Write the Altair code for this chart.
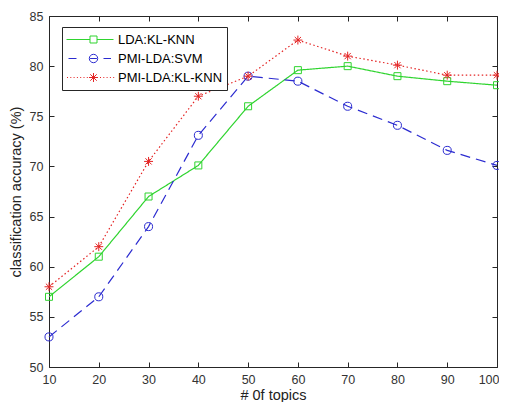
import altair as alt
import pandas as pd

topics = [10, 20, 30, 40, 50, 60, 70, 80, 90, 100]
lda_kl_knn = [57.0, 61.0, 67.0, 70.1, 76.0, 79.6, 80.0, 79.0, 78.5, 78.1]
pmi_svm = [53.0, 57.0, 64.0, 73.1, 79.0, 78.5, 76.0, 74.1, 71.6, 70.1]
pmi_kl_knn = [58.0, 62.0, 70.5, 77.0, 79.0, 82.6, 81.0, 80.1, 79.1, 79.1]
series_names = ["LDA:KL-KNN", "PMI-LDA:SVM", "PMI-LDA:KL-KNN"]
x_ticks = [10, 20, 30, 40, 50, 60, 70, 80, 90, 100]
y_ticks = [50, 55, 60, 65, 70, 75, 80, 85]

rows = []
for name, vals in zip(series_names, [lda_kl_knn, pmi_svm, pmi_kl_knn]):
    for t, v in zip(topics, vals):
        rows.append({"topics": t, "acc": v, "series": name})
df = pd.DataFrame(rows)

colors = ["#2fd42f", "#2b2bd0", "#e42424"]
dashes = [[1, 0], [10, 6], [1.5, 2.5]]
STAR = "M0,-1V1M-1,0H1M-0.7,-0.7L0.7,0.7M-0.7,0.7L0.7,-0.7"

W, H = 448, 351
FONT = "Liberation Sans"

# legend symbol paths (line sample + marker), drawn in pixels then normalised
HALF = 23.5


def norm(cmds):
    out = []
    for c in cmds:
        op = c[0]
        nums = c[1:]
        out.append(op + ",".join(f"{n / HALF:.4f}" for n in nums))
    return "".join(out)


mc = 3.5  # marker centre offset
sq = norm([("M", -23.5, 0), ("H", mc - 3.5), ("M", mc + 3.5, 0), ("H", 23.5),
           ("M", mc - 3.5, -3.5), ("H", mc + 3.5), ("V", 3.5), ("H", mc - 3.5), ("Z",)])
r = 4.2
circ = (norm([("M", -21.5, 0), ("H", -13.5), ("M", mc - r + 0.8, 0), ("H", mc + r - 0.8),
              ("M", 13.5, 0), ("H", 21)])
        + f"M{(mc - r) / HALF:.4f},0A{r / HALF:.4f},{r / HALF:.4f},0,1,0,{(mc + r) / HALF:.4f},0"
        + f"A{r / HALF:.4f},{r / HALF:.4f},0,1,0,{(mc - r) / HALF:.4f},0")
dots = []
x = -23.0
while x < 23.5:
    if abs(x - mc) > 5.5:
        dots += [("M", x, 0), ("H", x + 1.0)]
    x += 3.3
s = 4.5
d = 3.2
star = norm(dots + [("M", mc, -s), ("V", s), ("M", mc - s, 0), ("H", mc + s),
                    ("M", mc - d, -d), ("L", mc + d, d), ("M", mc - d, d), ("L", mc + d, -d)])

legend = alt.Legend(
    title=None, orient="none", legendX=13, legendY=11,
    symbolSize=(2 * HALF) ** 2, clipHeight=17, padding=4, labelOffset=4,
    labelFont=FONT, labelFontSize=13, labelColor="#000000",
    fillColor="white", strokeColor="#262626",
    symbolStrokeWidth=1, symbolOpacity=1, symbolFillColor="transparent",
)

xs = alt.Scale(domain=[10, 100], nice=False, zero=False)
ys = alt.Scale(domain=[50, 85], nice=False, zero=False)
cs = alt.Scale(domain=series_names, range=colors)

base = alt.Chart(df)

lines = base.mark_line(strokeWidth=1.2).encode(
    x=alt.X("topics:Q", scale=xs, axis=alt.Axis(
        values=x_ticks, tickSize=0, domain=False, grid=False, title="# 0f topics",
        labelFlush=False, labelOverlap=False,
        labelAlign={"condition": {"test": "datum.value >= 100", "value": "right"}, "value": "center"},
        labelOffset={"condition": {"test": "datum.value >= 100", "value": 2}, "value": 0},
        labelFont=FONT, labelFontSize=12.5, labelColor="#333333", labelPadding=6,
        titleFont=FONT, titleFontSize=14.5, titleFontWeight="normal", titleColor="#222222",
        titlePadding=3)),
    y=alt.Y("acc:Q", scale=ys, axis=alt.Axis(
        values=y_ticks, tickSize=0, domain=False, grid=False,
        title="classification accuracy (%)", labelFlush=False, labelOverlap=False,
        labelFont=FONT, labelFontSize=12.5, labelColor="#333333", labelPadding=6,
        titleFont=FONT, titleFontSize=14.5, titleFontWeight="normal", titleColor="#222222",
        titlePadding=6)),
    color=alt.Color("series:N", scale=cs, legend=None),
    strokeDash=alt.StrokeDash("series:N", scale=alt.Scale(domain=series_names, range=dashes),
                              legend=None),
)

points = base.mark_point(filled=False, strokeWidth=1, opacity=1).encode(
    x=alt.X("topics:Q", scale=xs, axis=None),
    y=alt.Y("acc:Q", scale=ys, axis=None),
    color=alt.Color("series:N", scale=cs, legend=None),
    shape=alt.Shape("series:N", scale=alt.Scale(domain=series_names,
                                                range=["square", "circle", STAR]), legend=None),
    size=alt.Size("series:N", scale=alt.Scale(domain=series_names, range=[49, 80, 90]),
                  legend=None),
)

legend_layer = base.transform_filter("false").mark_point(filled=False, strokeWidth=1, opacity=1).encode(
    color=alt.Color("series:N", scale=cs, legend=legend),
    shape=alt.Shape("series:N", scale=alt.Scale(domain=series_names, range=[sq, circ, star]),
                    legend=legend),
)

tick_style = dict(labels=False, domain=False, grid=False, title=None, tickSize=5,
                  tickColor="#262626", tickWidth=1)

ticks_a = base.mark_point(opacity=0).encode(
    x=alt.X("topics:Q", scale=xs, axis=alt.Axis(orient="top", offset=-H, values=x_ticks, **tick_style)),
    y=alt.Y("acc:Q", scale=ys, axis=alt.Axis(orient="right", offset=-W, values=y_ticks, **tick_style)),
)
ticks_b = base.mark_point(opacity=0).encode(
    x=alt.X("topics:Q", scale=xs, axis=alt.Axis(orient="bottom", offset=-H, values=x_ticks, **tick_style)),
    y=alt.Y("acc:Q", scale=ys, axis=alt.Axis(orient="left", offset=-W, values=y_ticks, **tick_style)),
)

chart = alt.layer(lines, points, ticks_a, ticks_b, legend_layer).resolve_axis(
    x="independent", y="independent"
).resolve_scale(
    shape="independent", color="independent", size="independent", strokeDash="independent"
).properties(
    width=W, height=H,
    autosize=alt.AutoSizeParams(type="none"),
    padding={"left": 41, "top": 8, "right": 2, "bottom": 35},
    background="white",
).configure_view(stroke="#262626", strokeWidth=1)

chart.save("out.html", embed_options={"renderer": "svg", "actions": False})
